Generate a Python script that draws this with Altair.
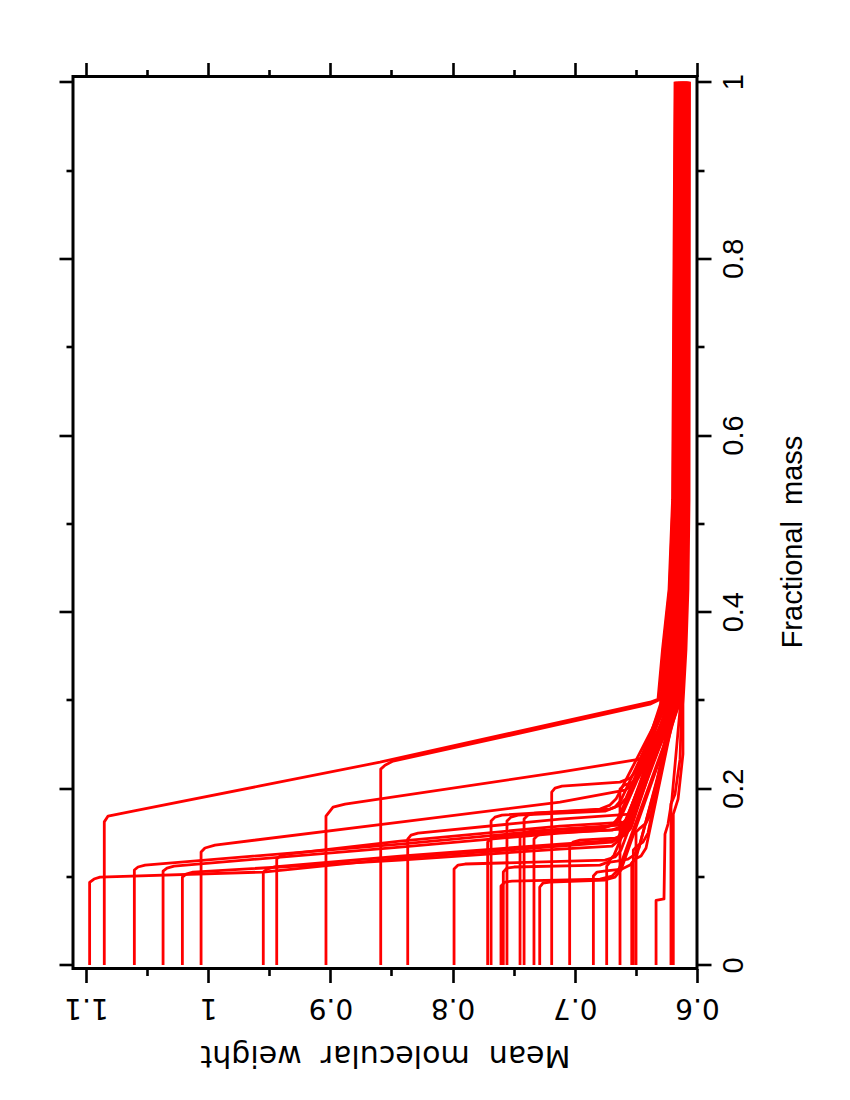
import altair as alt
import pandas as pd

# Each curve: mean molecular weight (mu) and fractional mass (m), in drawing order
curve_mu = [
    [1.097, 1.097, 1.0934, 1.0885, .9549, .843, .7121, .6695, .6638, .6193, .6163, .6133, .6116, .6106],
    [1.085, 1.085, 1.0819, 1.0615, .9575, .8594, .7121, .6385, .6319, .6282, .6229, .6200, .6180],
    [1.0604, 1.0604, 1.0574, 1.0516, .843, .7121, .663, .6573, .6237, .6205, .6167, .6146, .6132],
    [1.0369, 1.0369, 1.0337, 1.0279, .843, .7121, .6614, .6556, .6227, .6196, .6159, .6139, .6126],
    [1.0211, 1.0211, 1.0181, 1.0124, .843, .7121, .6695, .6638, .6182, .6153, .6125, .6110, .6100],
    [1.0058, 1.0058, 1.0026, .9944, .843, .7121, .6589, .6524, .6274, .6240, .6195, .6170, .6154],
    [.9549, .9549, .9518, .9461, .843, .7121, .6646, .6589, .6197, .6167, .6136, .6119, .6109],
    [.9439, .9439, .9412, .9355, .843, .7121, .6589, .6532, .6233, .6201, .6164, .6143, .6130],
    [.9036, .9036, .8978, .888, .7121, .6466, .6401, .6352, .6299, .6263, .6214, .6187, .6168],
    [.8588, .8588, .8553, .8487, .7121, .6385, .6313, .6276, .6224, .6196, .6176],
    [.8367, .8367, .834, .8283, .7121, .6548, .6491, .6246, .6213, .6173, .6151, .6137],
    [.7988, .7988, .7955, .7898, .6753, .6671, .6622, .6176, .6148, .6121, .6106, .6097],
    [.7713, .7713, .7685, .7628, .6794, .6695, .6646, .6223, .6192, .6156, .6137, .6124],
    [.7685, .7685, .7653, .7596, .6794, .6712, .6663, .6262, .6228, .6186, .6162, .6147],
    [.7604, .7604, .7571, .7514, .6794, .6695, .6638, .6150, .6123, .6100, .6088, .6081],
    [.7585, .7585, .7555, .7497, .6794, .6728, .6679, .6160, .6132, .6108, .6095, .6087],
    [.7555, .7555, .7522, .7465, .6753, .6671, .6622, .6258, .6224, .6183, .6160, .6144],
    [.7448, .7448, .7415, .7358, .6753, .6671, .6622, .6217, .6186, .6152, .6133, .6121],
    [.7415, .7415, .7383, .7326, .6712, .663, .6581, .6252, .6219, .6178, .6155, .6141],
    [.7334, .7334, .7301, .7244, .6695, .663, .6581, .6213, .6182, .6148, .6130, .6118],
    [.7287, .7287, .726, .7203, .6753, .6671, .6622, .6146, .6119, .6097, .6085, .6079],
    [.7189, .7189, .7162, .7105, .663, .6548, .6499, .6288, .6253, .6206, .6180, .6162],
    [.7042, .7042, .7015, .6957, .6671, .6589, .654, .6203, .6173, .6141, .6123, .6112],
    [.6848, .6848, .6818, .6761, .6614, .6548, .6499, .6156, .6128, .6105, .6092, .6085],
    [.6739, .6739, .6712, .6655, .6565, .6515, .6475, .6166, .6138, .6113, .6099, .6091],
    [.663, .663, .6597, .654, .6483, .6442, .6278, .6244, .6198, .6173, .6156],
    [.6534, .6534, .6507, .6458, .6417, .6172, .6144, .6117, .6103, .6094],
    [.6521, .6521, .6491, .6442, .6401, .6186, .6157, .6128, .6112, .6103],
    [.6499, .6499, .6466, .6417, .6376, .6207, .6176, .6144, .6126, .6115],
    [.6335, .6335, .6270, .6262, .6237, .6205, .6135, .6109, .6089, .6079, .6073],
    [.6213, .6213, .618, .6139, .6125, .6100, .6082, .6072, .6067],
    [.6194, .6194, .6155, .6115, .6115, .6090, .6074, .6065, .6061],
]
curve_m = [
    [0, .0935, .0973, .0995, .1052, .121, .1346, .1391, .1459, .2952, .3575, .4253, .5271, 1.0],
    [0, .162, .1686, .1742, .2027, .2296, .2749, .2975, .3009, .3575, .4253, .5271, 1.0],
    [0, .1075, .1109, .1131, .1369, .1538, .1584, .1652, .2952, .3575, .4253, .5271, 1.0],
    [0, .1063, .1097, .112, .1335, .1493, .1538, .1606, .2952, .3575, .4253, .5271, 1.0],
    [0, .0995, .1029, .1052, .1188, .1312, .1346, .1414, .2952, .3575, .4253, .5271, 1.0],
    [0, .1278, .1324, .1357, .1618, .1844, .198, .2047, .2952, .3575, .4253, .5271, 1.0],
    [0, .1052, .1086, .1109, .1233, .1369, .1414, .1482, .2952, .3575, .4253, .5271, 1.0],
    [0, .1199, .1233, .1256, .1403, .1572, .1618, .1686, .2952, .3575, .4253, .5271, 1.0],
    [0, .1686, .1787, .1821, .2183, .2330, .2500, .2726, .2952, .3575, .4253, .5271, 1.0],
    [0, .2217, .2262, .2308, .2726, .2952, .3000, .3575, .4253, .5271, 1.0],
    [0, .1425, .1471, .1493, .1652, .1708, .1776, .2952, .3575, .4253, .5271, 1.0],
    [0, .1086, .1131, .1143, .1188, .1222, .1301, .2952, .3575, .4253, .5271, 1.0],
    [0, .1391, .1437, .1459, .1538, .1584, .1663, .2952, .3575, .4253, .5271, 1.0],
    [0, .1629, .1674, .1697, .1765, .181, .1878, .2952, .3575, .4253, .5271, 1.0],
    [0, .0894, .0939, .095, .0973, .1007, .1086, .2952, .3575, .4253, .5271, 1.0],
    [0, .1052, .1097, .1109, .1131, .1165, .1244, .2952, .3575, .4253, .5271, 1.0],
    [0, .1629, .1674, .1697, .1742, .1787, .1866, .2952, .3575, .4253, .5271, 1.0],
    [0, .1448, .1493, .1516, .1561, .1595, .1674, .2952, .3575, .4253, .5271, 1.0],
    [0, .1652, .1697, .1719, .1765, .181, .1889, .2952, .3575, .4253, .5271, 1.0],
    [0, .1425, .1471, .1493, .1527, .1561, .164, .2952, .3575, .4253, .5271, 1.0],
    [0, .0882, .0928, .0939, .0962, .0995, .1075, .2952, .3575, .4253, .5271, 1.0],
    [0, .1957, .2002, .2025, .207, .2115, .2195, .2952, .3575, .4253, .5271, 1.0],
    [0, .1346, .1391, .1414, .1437, .1471, .155, .2952, .3575, .4253, .5271, 1.0],
    [0, .1007, .1052, .1063, .1086, .1131, .121, .2952, .3575, .4253, .5271, 1.0],
    [0, .112, .1165, .1176, .1199, .1244, .1324, .2952, .3575, .4253, .5271, 1.0],
    [0, .1991, .2036, .2059, .2115, .2206, .2952, .3575, .4253, .5271, 1.0],
    [0, .1154, .1199, .1233, .1324, .2952, .3575, .4253, .5271, 1.0],
    [0, .1301, .1346, .1391, .1493, .2952, .3575, .4253, .5271, 1.0],
    [0, .1504, .155, .1606, .1719, .2952, .3575, .4253, .5271, 1.0],
    [0, .073, .0747, .0747, .1482, .1595, .2952, .3575, .4253, .5271, 1.0][:0] or
    [0, .073, .0747, .1482, .1595, .1878, .2952, .3575, .4253, .5271, 1.0],
    [0, .1821, .1934, .233, .2952, .3575, .4253, .5271, 1.0],
    [0, .1708, .1878, .2387, .2952, .3575, .4253, .5271, 1.0],
]

x_ticks = [0.6, 0.65, 0.7, 0.75, 0.8, 0.85, 0.9, 0.95, 1.0, 1.05, 1.1]
y_ticks = [0.0, 0.1, 0.2, 0.3, 0.4, 0.5, 0.6, 0.7, 0.8, 0.9, 1.0]

rows = []
for ci, (mus, ms) in enumerate(zip(curve_mu, curve_m)):
    for k, (a, b) in enumerate(zip(mus, ms)):
        rows.append({"curve": ci, "idx": k, "mu": a, "m": b})
df = pd.DataFrame(rows)

x_scale = alt.Scale(domain=[0.6, 1.1106], reverse=True, nice=False, zero=False)
y_scale = alt.Scale(domain=[-0.004, 1.0059], nice=False, zero=False)

major_x = "round(datum.value*20) % 2 == 0"
major_y = "round(datum.value*10) % 2 == 0"
tick_x = {"condition": {"test": major_x, "value": 14}, "value": 7}
tick_y = {"condition": {"test": major_y, "value": 14}, "value": 7}

x_axis_main = alt.Axis(
    orient="bottom", values=x_ticks, domain=False, grid=False,
    tickSize=tick_x, tickWidth=2.6, tickColor="black",
    labelExpr=f"{major_x} ? format(datum.value, '~g') : ''",
    labelAngle=180, labelAlign="center", labelBaseline="alphabetic",
    labelFont="DejaVu Sans", labelFontSize=28, labelColor="black",
    labelPadding=16, labelOverlap=False, labelFlush=False,
    title="Mean \u00a0molecular \u00a0weight", titleAngle=180,
    titleBaseline="alphabetic", titleAlign="center",
    titleFont="DejaVu Sans", titleFontSize=30, titleFontWeight="normal",
    titleColor="black", titleY=77,
)
y_axis_main = alt.Axis(
    orient="right", values=y_ticks, domain=False, grid=False,
    tickSize=tick_y, tickWidth=2.6, tickColor="black",
    labelExpr=f"{major_y} ? format(datum.value, '~g') : ''",
    labelAngle=270, labelAlign="center", labelBaseline="alphabetic",
    labelFont="Liberation Sans", labelFontSize=29, labelColor="black",
    labelPadding=31, labelOverlap=False, labelFlush=False,
    title="Fractional \u00a0mass", titleAngle=270,
    titleBaseline="alphabetic", titleAlign="center",
    titleFont="Liberation Sans", titleFontSize=29, titleFontWeight="normal",
    titleColor="black", titleX=104, titleY=465,
)
x_axis_top = alt.Axis(
    orient="top", values=x_ticks, domain=False, grid=False, labels=False,
    tickSize=tick_x, tickWidth=2.6, tickColor="black", title=None,
)
y_axis_left = alt.Axis(
    orient="left", values=y_ticks, domain=False, grid=False, labels=False,
    tickSize=tick_y, tickWidth=2.6, tickColor="black", title=None,
)

lines = alt.Chart(df).mark_line(color="#ff0000", strokeWidth=2.8, strokeJoin="round").encode(
    x=alt.X("mu:Q", scale=x_scale, axis=x_axis_main),
    y=alt.Y("m:Q", scale=y_scale, axis=y_axis_main),
    detail="curve:N",
    order="idx:Q",
)
mirror = alt.Chart(df).mark_line(opacity=0).encode(
    x=alt.X("mu:Q", scale=x_scale, axis=x_axis_top),
    y=alt.Y("m:Q", scale=y_scale, axis=y_axis_left),
    detail="curve:N",
    order="idx:Q",
)

chart = alt.layer(lines, mirror).resolve_axis(
    x="independent", y="independent"
).properties(
    width=624, height=892,
    autosize=alt.AutoSizeParams(type="none"),
    padding={"left": 65, "top": 68.5, "right": 140, "bottom": 110},
    background="white",
).configure_view(stroke="black", strokeWidth=3)

chart.save("out.html", embed_options={"renderer": "svg", "actions": False})
